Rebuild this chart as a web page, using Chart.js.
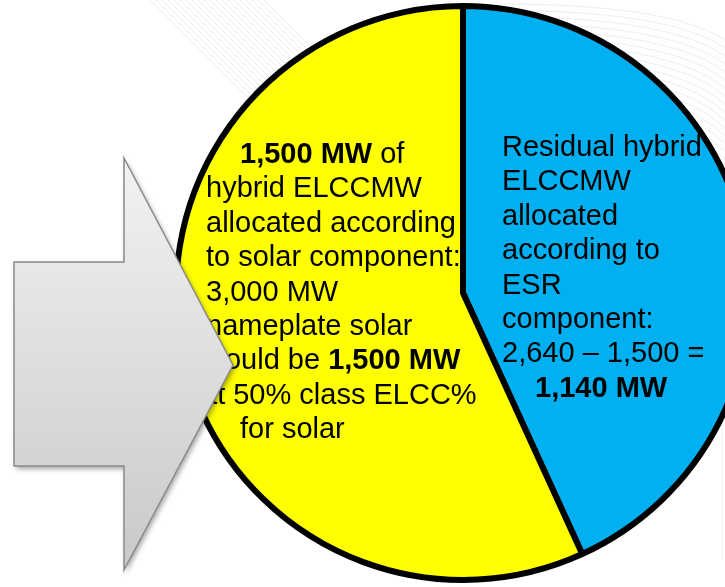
<!DOCTYPE html>
<html>
<head>
<meta charset="utf-8">
<script src="https://cdn.jsdelivr.net/npm/chart.js@4"></script>
<style>
  html, body { margin: 0; padding: 0; background: #fff; overflow: hidden; }
  #wrap { position: absolute; left: 0; top: 0; width: 760px; height: 587px; }
</style>
</head>
<body>
<div id="wrap"><canvas id="chart-pie"></canvas></div>
<script>
// slice data (blue first, clockwise from 12 o'clock)
const sliceLabels = ["Residual hybrid ELCC MW (ESR)", "Hybrid ELCC MW (solar)"];
const sliceValues = [1140, 1500];
const sliceColors = ["#00B0F0", "#FFFF00"];

// text inside the slices: each line is a list of [text, bold] runs
const solarLines = [
  [["1,500 MW", true], [" of", false]],
  [["hybrid ELCCMW", false]],
  [["allocated according", false]],
  [["to solar component:", false]],
  [["3,000 MW", false]],
  [["nameplate solar", false]],
  [["would be ", false], ["1,500 MW", true]],
  [["at 50% class ELCC%", false]],
  [["for solar", false]],
];
const esrLines = [
  [["Residual hybrid", false]],
  [["ELCCMW", false]],
  [["allocated", false]],
  [["according to", false]],
  [["ESR", false]],
  [["component:", false]],
  [["2,640 \u2013 1,500 =", false]],
  [["1,140 MW", true]],
];

const FONT = '"Liberation Sans", Arial, sans-serif';
const FSIZE = 29;
const LINE_H = 34.4;

// line start x for each text line
const solarX = [240, 206, 206, 206, 206, 206, 204, 201, 240];
const esrX   = [502, 502, 502, 502, 502, 502, 502, 535];

function _drawRuns(ctx, runs, x, y) {
  let cx = x;
  runs.forEach(([txt, bold]) => {
    ctx.font = `${bold ? "bold " : ""}${FSIZE}px ${FONT}`;
    ctx.fillText(txt, cx, y);
    cx += ctx.measureText(txt).width;
  });
}

const backdropPlugin = {
  id: "backdrop",
  beforeDatasetsDraw(chart) {
    const ctx = chart.ctx;
    ctx.save();
    ctx.strokeStyle = "rgba(0,0,0,0.07)";
    ctx.lineWidth = 1;
    // faint swoosh, upper left
    for (let i = 0; i < 20; i++) {
      ctx.beginPath();
      ctx.moveTo(150 + i * 6, 0);
      ctx.lineTo(350 + i * 6, 200);
      ctx.stroke();
    }
    // faint swoosh, upper right
    for (let i = 0; i < 17; i++) {
      ctx.beginPath();
      ctx.moveTo(500, 4 + i * 6.5);
      ctx.quadraticCurveTo(670, 4 + i * 6.5, 725, 40 + i * 8);
      ctx.stroke();
    }
    ctx.strokeStyle = "rgba(0,0,0,0.05)";
    ctx.beginPath();
    ctx.moveTo(722, 400);
    ctx.lineTo(722, 560);
    ctx.stroke();
    ctx.restore();
  },
};

const labelPlugin = {
  id: "sliceText",
  afterDatasetsDraw(chart) {
    const ctx = chart.ctx;
    ctx.save();
    ctx.fillStyle = "#000";
    ctx.textBaseline = "alphabetic";
    ctx.textAlign = "left";
    solarLines.forEach((runs, i) => _drawRuns(ctx, runs, solarX[i], 163 + i * LINE_H));
    esrLines.forEach((runs, i) => _drawRuns(ctx, runs, esrX[i], 156 + i * LINE_H));
    ctx.restore();
  },
};

const arrowPlugin = {
  id: "arrow",
  afterDraw(chart) {
    const ctx = chart.ctx;
    const pts = [[14, 262], [124, 262], [124, 158], [233, 365], [124, 570], [124, 466], [14, 466]];
    ctx.save();
    const g = ctx.createLinearGradient(0, 158, 0, 570);
    g.addColorStop(0, "#f2f2f2");
    g.addColorStop(1, "#c9c9c9");
    ctx.beginPath();
    pts.forEach(([x, y], i) => (i ? ctx.lineTo(x, y) : ctx.moveTo(x, y)));
    ctx.closePath();
    ctx.shadowColor = "rgba(0,0,0,0.35)";
    ctx.shadowBlur = 5;
    ctx.shadowOffsetX = 2;
    ctx.shadowOffsetY = 3;
    ctx.fillStyle = g;
    ctx.fill();
    ctx.shadowColor = "transparent";
    ctx.strokeStyle = "#8a8a8a";
    ctx.lineWidth = 1.5;
    ctx.stroke();
    ctx.restore();
  },
};

new Chart(document.getElementById("chart-pie"), {
  type: "pie",
  data: {
    labels: sliceLabels,
    datasets: [{
      data: sliceValues,
      backgroundColor: sliceColors,
      borderColor: "#000",
      borderWidth: 6,
      hoverOffset: 0,
    }],
  },
  options: {
    responsive: true,
    maintainAspectRatio: false,
    animation: false,
    events: [],
    layout: { padding: { left: 173, right: 7, top: 3, bottom: 4 } },
    plugins: { legend: { display: false }, tooltip: { enabled: false } },
  },
  plugins: [backdropPlugin, labelPlugin, arrowPlugin],
});
</script>
</body>
</html>
